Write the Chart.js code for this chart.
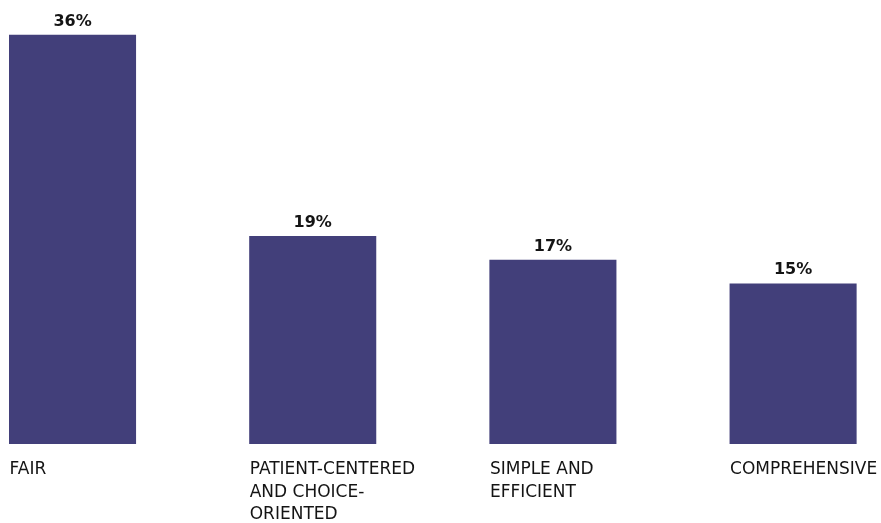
<!DOCTYPE html>
<html>
<head>
<meta charset="utf-8">
<script src="https://cdn.jsdelivr.net/npm/chart.js@4/dist/chart.umd.min.js"></script>
<style>
  html, body { margin: 0; padding: 0; background: #ffffff; }
  #wrap { width: 881px; height: 523px; position: relative; }
</style>
</head>
<body>
<div id="wrap"><canvas id="c"></canvas></div>
<script>
// ---- data ----
const categories = ["FAIR", "PATIENT-CENTERED AND CHOICE-ORIENTED", "SIMPLE AND EFFICIENT", "COMPREHENSIVE"];
const categoryLines = [["FAIR"], ["PATIENT-CENTERED", "AND CHOICE-", "ORIENTED"], ["SIMPLE AND", "EFFICIENT"], ["COMPREHENSIVE"]];
const values = [36, 19, 17, 15];
const valueLabels = ["36%", "19%", "17%", "15%"];

const BAR_COLOR = "#423f7a";
const TEXT_COLOR = "#141414";

const valueLabelPlugin = {
  id: "valueLabels",
  afterDatasetsDraw(chart) {
    const ctx = chart.ctx;
    const meta = chart.getDatasetMeta(0);
    ctx.save();
    ctx.font = "bold 16px 'DejaVu Sans'";
    ctx.fillStyle = TEXT_COLOR;
    ctx.textAlign = "center";
    ctx.textBaseline = "alphabetic";
    meta.data.forEach((bar, i) => {
      ctx.fillText(valueLabels[i], bar.x, bar.y - 9);
    });
    ctx.restore();
  }
};

new Chart(document.getElementById("c"), {
  type: "bar",
  data: {
    datasets: [{
      data: values.map((v, i) => ({ x: i, y: v })),
      backgroundColor: BAR_COLOR,
      borderWidth: 0,
      barPercentage: 0.529,
      categoryPercentage: 1
    }]
  },
  options: {
    responsive: true,
    maintainAspectRatio: false,
    animation: false,
    layout: { padding: { top: 30, left: 0, right: 0, bottom: 0 } },
    plugins: {
      legend: { display: false },
      tooltip: { enabled: false }
    },
    scales: {
      x: {
        type: "linear",
        min: -0.302,
        max: 3.366,
        offset: false,
        grid: { display: false, drawTicks: false },
        border: { display: false },
        afterBuildTicks(scale) {
          scale.ticks = categories.map((_, i) => ({ value: i }));
        },
        afterFit(scale) {
          scale.paddingLeft = 0;
          scale.paddingRight = 0;
          scale.height = 79;
        },
        ticks: {
          autoSkip: false,
          maxRotation: 0,
          minRotation: 0,
          align: "start",
          labelOffset: -63,
          padding: 15,
          color: TEXT_COLOR,
          font: { family: "'DejaVu Sans'", size: 17, lineHeight: 1.3 },
          callback(value) { return categoryLines[value] || ""; }
        }
      },
      y: {
        display: false,
        min: 1.44,
        max: 36.4
      }
    }
  },
  plugins: [valueLabelPlugin]
});
</script>
</body>
</html>
